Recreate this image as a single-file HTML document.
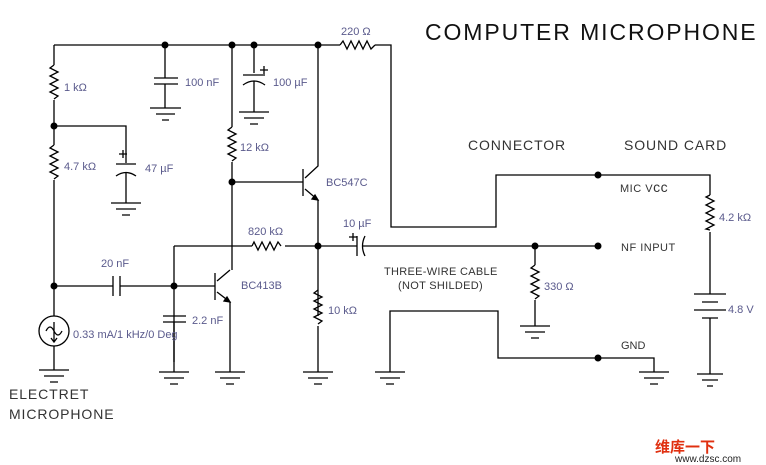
<!DOCTYPE html>
<html><head><style>
body{margin:0;background:#fff;}
svg{display:block;}
text{font-family:"Liberation Sans",sans-serif;}
.l{fill:#5a5a8c;font-size:11px;}
.b{fill:#333;font-size:14px;letter-spacing:0.9px;}
</style></head><body>
<svg width="766" height="465" viewBox="0 0 766 465" xmlns="http://www.w3.org/2000/svg">
<g stroke="#000" stroke-width="1.3" fill="none">
<path d="M54,45H340 M375,45H391V227H496V175H710V195 M710,232V294"/>
<path d="M340,45l3,-4l4,8l4,-8l4,8l4,-8l4,8l4,-8l4,8l4,-4"/>
<path d="M710,195l-4,2l8,4l-8,4l8,4l-8,4l8,4l-8,4l8,4l-8,4l4,1"/>
<path d="M694,294H726 M702,302H718 M694,310H726 M702,318H718 M710,318V374 M697,374H723 M702,380H718 M707,386H713"/>
<path d="M54,45V65 M54,65l-4,3l8,4l-8,4l8,4l-8,4l8,4l-8,4l8,4l-4,3 M54,100V145 M54,145l-4,3l8,4l-8,4l8,4l-8,4l8,4l-8,4l8,4l-4,3 M54,180V316"/>
<path d="M54,126H126V163 M126,172V203 M111,203H141 M116,209H136 M122,215H130"/>
<path d="M116,164H136 M116,176q10,-7 20,0"/>
<path d="M119,154h8 M123,150v8"/>
<circle cx="54" cy="331" r="15"/>
<path d="M46,331q4,-8 8,0t8,0 M54,322V342 M51,338l3,4l3,-4"/>
<path d="M54,346V370 M39,370H69 M44,376H64 M50,382H58"/>
<path d="M165,45V78 M154,78H178 M154,84H178 M165,84V108 M150,108H181 M156,114H175 M162,120H169"/>
<path d="M254,45V73 M243,75H265 M243,85q11,-8 22,0 M254,81V112 M239,112H269 M244,118H264 M250,124H258 M260,70h8 M264,66v8"/>
<path d="M232,45V127 M232,127l-4,3l8,4l-8,4l8,4l-8,4l8,4l-8,4l8,4l-4,3 M232,162V270"/>
<path d="M232,182H303 M303,169V196 M305,178L318,166V45 M305,189L318,200V316"/>
<path d="M318,200l-6,-1l3,-4z" fill="#000"/>
<path d="M174,246H252 M285,246H357 M252,246l2,-4l4,8l4,-8l4,8l4,-8l4,8l4,-8l3,4"/>
<path d="M174,246V362"/>
<path d="M54,286H113 M113,276V296 M120,276V296 M120,286H215"/>
<path d="M163,316H186 M163,322H186 M174,322V372 M159,372H189 M164,378H184 M170,384H178"/>
<path d="M215,273V300 M217,281L230,270 M217,292L230,302V372 M215,372H245 M220,378H240 M226,384H234"/>
<path d="M230,302l-6,-1l3,-4z" fill="#000"/>
<path d="M318,290l-4,3l8,4l-8,4l8,4l-8,4l8,4l-8,4l8,4l-4,3 M318,326V372 M303,372H333 M308,378H328 M314,384H322"/>
<path d="M357,236V256 M365,236q-5,10 0,20 M362,246H598 M349,237h8 M353,233v8"/>
<path d="M535,246V265 M535,265l-4,3l8,4l-8,4l8,4l-8,4l8,4l-8,4l8,4l-4,3 M535,300V326 M520,326H550 M525,332H545 M531,338H539"/>
<path d="M390,372V311H498V358H654V372 M375,372H405 M380,378H400 M386,384H394 M639,372H669 M644,378H664 M650,384H658"/>
</g>
<g fill="#000">
<circle cx="165" cy="45" r="3.5"/><circle cx="232" cy="45" r="3.5"/><circle cx="254" cy="45" r="3.5"/><circle cx="318" cy="45" r="3.5"/>
<circle cx="54" cy="126" r="3.5"/><circle cx="232" cy="182" r="3.5"/><circle cx="318" cy="246" r="3.5"/>
<circle cx="54" cy="286" r="3.5"/><circle cx="174" cy="286" r="3.5"/><circle cx="535" cy="246" r="3.5"/>
<circle cx="598" cy="175" r="3.5"/><circle cx="598" cy="246" r="3.5"/><circle cx="598" cy="358" r="3.5"/>
</g>
<text x="425" y="40" style="font-size:23px;fill:#111;letter-spacing:1.9px">COMPUTER MICROPHONE</text>
<text class="l" x="341" y="35">220 Ω</text>
<text class="l" x="64" y="91">1 kΩ</text>
<text class="l" x="185" y="86">100 nF</text>
<text class="l" x="273" y="86">100 µF</text>
<text class="l" x="64" y="170">4.7 kΩ</text>
<text class="l" x="145" y="172">47 µF</text>
<text class="l" x="240" y="151">12 kΩ</text>
<text class="l" x="326" y="186">BC547C</text>
<text class="l" x="343" y="227">10 µF</text>
<text class="l" x="248" y="235">820 kΩ</text>
<text class="l" x="101" y="267">20 nF</text>
<text class="l" x="241" y="289">BC413B</text>
<text class="l" x="192" y="324">2.2 nF</text>
<text class="l" x="73" y="338">0.33 mA/1 kHz/0 Deg</text>
<text class="l" x="328" y="314">10 kΩ</text>
<text class="l" x="544" y="290">330 Ω</text>
<text class="l" x="719" y="221">4.2 kΩ</text>
<text class="l" x="728" y="313">4.8 V</text>
<text class="b" x="468" y="150">CONNECTOR</text>
<text class="b" x="624" y="150">SOUND CARD</text>
<text style="font-size:11px;fill:#333;letter-spacing:0.5px" x="620" y="192">MIC V<tspan style="font-size:14px">cc</tspan></text>
<text style="font-size:11px;fill:#333;letter-spacing:0.5px" x="621" y="251">NF INPUT</text>
<text style="font-size:11px;fill:#333" x="621" y="349">GND</text>
<text style="font-size:11px;fill:#333;letter-spacing:0.3px" x="384" y="275">THREE-WIRE CABLE</text>
<text style="font-size:11px;fill:#333;letter-spacing:0.3px" x="398" y="289">(NOT SHILDED)</text>
<text class="b" x="9" y="399">ELECTRET</text>
<text class="b" x="9" y="419">MICROPHONE</text>
<text x="655" y="452" style="font-size:15px;font-weight:bold;fill:#e03010;font-family:'Noto Sans CJK SC',sans-serif">维库一下</text>
<text x="675" y="462" style="font-size:10px;fill:#222">www.dzsc.com</text>
</svg>
</body></html>
